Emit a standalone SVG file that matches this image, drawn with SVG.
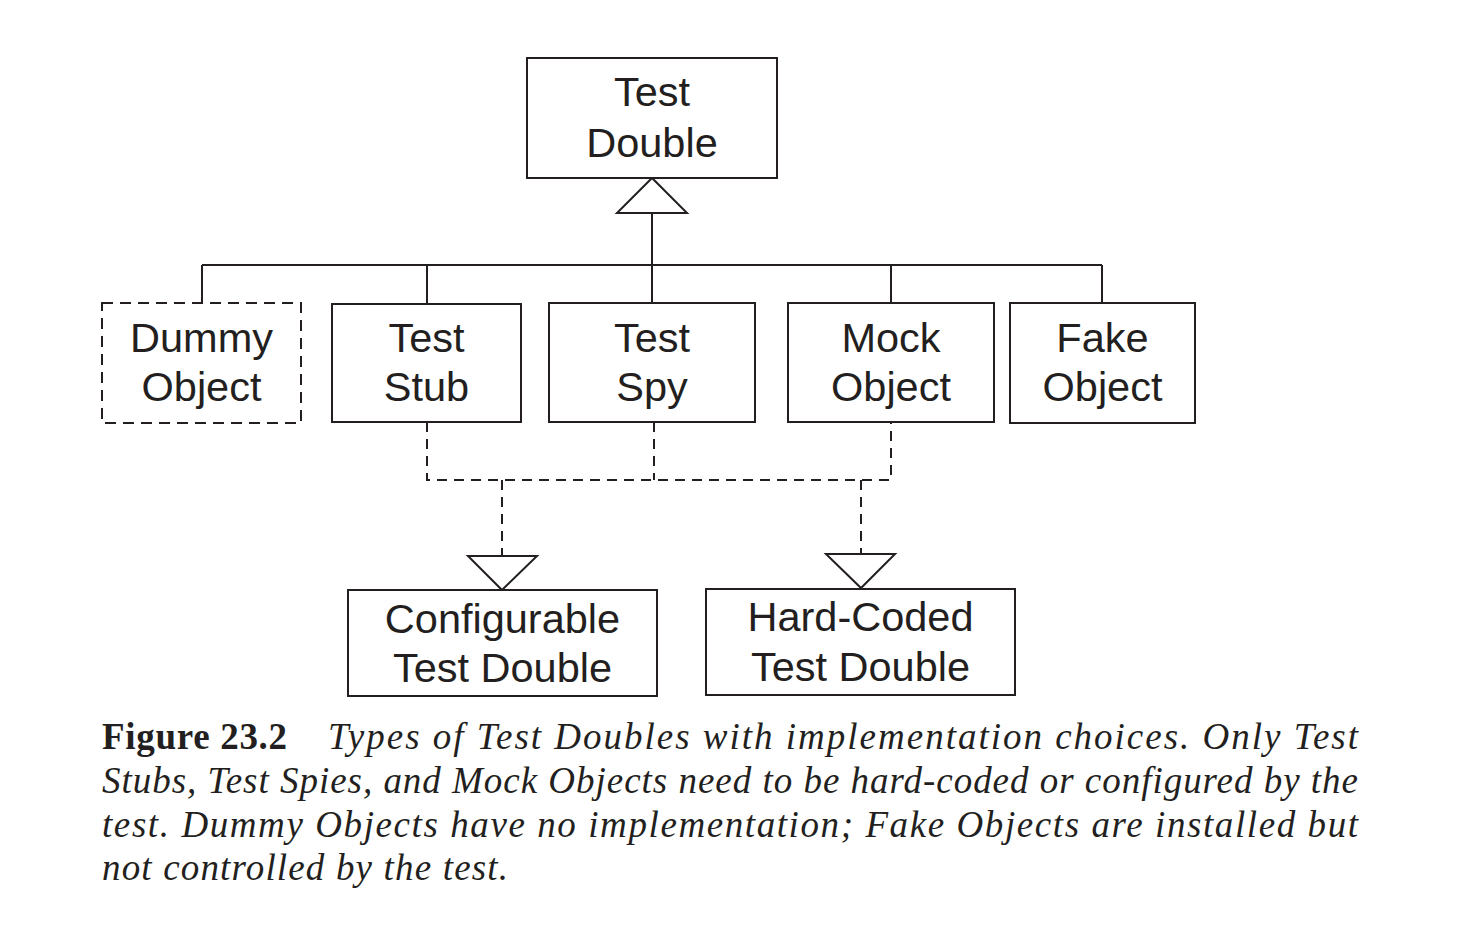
<svg xmlns="http://www.w3.org/2000/svg" width="1466" height="929" viewBox="0 0 1466 929">
<style>
.box{fill:#fff;stroke:#231f20;stroke-width:2}
.dbox{fill:#fff;stroke:#231f20;stroke-width:2;stroke-dasharray:11 7}
.t{font-family:"Liberation Sans",Arial,sans-serif;font-size:41.5px;fill:#231f20;text-anchor:middle}
.ln{fill:none;stroke:#231f20;stroke-width:2}
.dl{fill:none;stroke:#231f20;stroke-width:2;stroke-dasharray:10 7}
.tri{fill:#fff;stroke:#231f20;stroke-width:2;stroke-linejoin:miter}
.cap{font-family:"Liberation Serif","Times New Roman",serif;font-size:37px;fill:#231f20;font-style:italic}
.capb{font-family:"Liberation Serif","Times New Roman",serif;font-size:37px;fill:#231f20;font-weight:bold}
</style>
<rect width="1466" height="929" fill="#fff"/>
<g id="connectors">
<path class="ln" d="M652 213 V303 M202 265 H1102 M202 265 V303 M427 265 V304 M891 265 V303 M1102 265 V303"/>
<polygon class="tri" points="652,178 617,213 687,213"/>
<path class="dl" d="M427 422 V480 H891 V422 M654 422 V480 M502 480 V556 M861 480 V554"/>
<polygon class="tri" points="468,556 537,556 502,590"/>
<polygon class="tri" points="826,554 895,554 861,588"/>
</g>
<g id="test-double">
<rect class="box" x="527" y="58" width="250" height="120"/>
<text class="t" x="652" y="106">Test</text>
<text class="t" x="652" y="157">Double</text>
</g>
<g id="dummy-object">
<rect class="dbox" x="102" y="303" width="199" height="120"/>
<text class="t" x="201.5" y="352">Dummy</text>
<text class="t" x="201.5" y="401">Object</text>
</g>
<g id="test-stub">
<rect class="box" x="332" y="304" width="189" height="118"/>
<text class="t" x="426.5" y="352">Test</text>
<text class="t" x="426.5" y="401">Stub</text>
</g>
<g id="test-spy">
<rect class="box" x="549" y="303" width="206" height="119"/>
<text class="t" x="652" y="352">Test</text>
<text class="t" x="652" y="401">Spy</text>
</g>
<g id="mock-object">
<rect class="box" x="788" y="303" width="206" height="119"/>
<text class="t" x="891" y="352">Mock</text>
<text class="t" x="891" y="401">Object</text>
</g>
<g id="fake-object">
<rect class="box" x="1010" y="303" width="185" height="120"/>
<text class="t" x="1102.5" y="352">Fake</text>
<text class="t" x="1102.5" y="401">Object</text>
</g>
<g id="configurable-test-double">
<rect class="box" x="348" y="590" width="309" height="106"/>
<text class="t" x="502.5" y="633">Configurable</text>
<text class="t" x="502.5" y="682">Test Double</text>
</g>
<g id="hard-coded-test-double">
<rect class="box" x="706" y="589" width="309" height="106"/>
<text class="t" x="860.5" y="631">Hard-Coded</text>
<text class="t" x="860.5" y="681">Test Double</text>
</g>
<g id="caption">
<text class="capb" x="102" y="749" textLength="185">Figure 23.2</text>
<text class="cap" x="328" y="749" textLength="1030">Types of Test Doubles with implementation choices. Only Test</text>
<text class="cap" x="102" y="793" textLength="1256">Stubs, Test Spies, and Mock Objects need to be hard-coded or configured by the</text>
<text class="cap" x="102" y="837" textLength="1256">test. Dummy Objects have no implementation; Fake Objects are installed but</text>
<text class="cap" x="102" y="880" textLength="406">not controlled by the test.</text>
</g>
</svg>
